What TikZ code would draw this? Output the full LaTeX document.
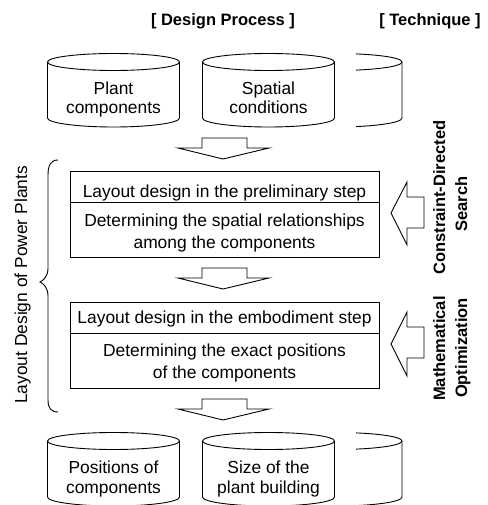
\documentclass[tikz,border=0pt]{standalone}
\usepackage{fontspec}
\setmainfont{Liberation Sans}
\newcommand\mycyl[3]{%
  \draw[ln] (#1,#2) ellipse[x radius=66pt, y radius=8.5pt];
  \draw[ln] ({#1-66},#2) -- ({#1-66},#3) arc[start angle=180, end angle=360, x radius=66pt, y radius=9pt] -- ({#1+66},#2);
}
\begin{document}
\begin{tikzpicture}[x=1pt,y=-1pt,
  ln/.style={line width=0.9pt, black},
  txt/.style={font=\fontsize{17.4}{20}\selectfont, inner sep=0pt, anchor=base},
  bld/.style={font=\fontsize{16.5}{20}\selectfont\bfseries, inner sep=0pt, anchor=base},
  blockarrow/.style={line width=0.9pt, black, fill=white, line join=miter},
  boxstyle/.style={draw, line width=0.9pt, minimum width=309pt, inner sep=0pt}]
\useasboundingbox (0,0) rectangle (487,505);

% headers
\node[bld] (hdp) at (223,26) {[ Design Process ]};
\node[bld] (htq) at (430,26) {[ Technique ]};

% top cylinders
\mycyl{113.5}{62}{118}
\mycyl{268.5}{62}{118}
\begin{scope}
  \clip (356,0) rectangle (420,200);
  \mycyl{336}{62}{118}
\end{scope}
\node[txt] (pc1) at (113.5,95) {Plant};
\node[txt] (pc2) at (113.5,114) {components};
\node[txt] (sc1) at (268.5,95) {Spatial};
\node[txt] (sc2) at (268.5,114) {conditions};

% down arrow 1
\draw[blockarrow] (202,138) -- (247,138) -- (247,148) -- (269,148) -- (223,159) -- (178,148) -- (202,148) -- cycle;

% box 1
\node[boxstyle, minimum height=86pt] (box1) at (224.5,214) {};
\draw[ln] (box1.west |- 0,202) -- (box1.east |- 0,202);
\node[txt] (b1a) at (224.5,197) {Layout design in the preliminary step};
\node[txt] (b1b) at (224.5,226) {Determining the spatial relationships};
\node[txt] (b1c) at (224.5,248) {among the components};

% down arrow 2
\draw[blockarrow] (202,268) -- (247,268) -- (247,278) -- (269,278) -- (223,289) -- (178,278) -- (202,278) -- cycle;

% box 2
\node[boxstyle, minimum height=86pt] (box2) at (224.5,345) {};
\draw[ln] (box2.west |- 0,333) -- (box2.east |- 0,333);
\node[txt] (b2a) at (224.5,323) {Layout design in the embodiment step};
\node[txt] (b2b) at (224.5,356) {Determining the exact positions};
\node[txt] (b2c) at (224.5,378) {of the components};

% down arrow 3
\draw[blockarrow] (202,399) -- (247,399) -- (247,409) -- (269,409) -- (223,420) -- (178,409) -- (202,409) -- cycle;

% bottom cylinders
\mycyl{113.5}{441}{497}
\mycyl{268.5}{441}{497}
\begin{scope}
  \clip (356,400) rectangle (420,505);
  \mycyl{336}{441}{497}
\end{scope}
\node[txt] (po1) at (113.5,473) {Positions of};
\node[txt] (po2) at (113.5,493) {components};
\node[txt] (sz1) at (268.5,473) {Size of the};
\node[txt] (sz2) at (268.5,493) {plant building};

% left arrows
\draw[blockarrow] (424,197) -- (407,197) -- (407,182) -- (391,213) -- (407,245) -- (407,228) -- (424,228) -- cycle;
\draw[blockarrow] (424,327) -- (407,327) -- (407,312) -- (391,344) -- (407,376) -- (407,358) -- (424,358) -- cycle;

% technique labels
\node[bld, rotate=90] (cds1) at (445,197.5) {Constraint-Directed};
\node[bld, rotate=90] (cds2) at (467,204) {Search};
\node[bld, rotate=90] (mo1) at (445,348.5) {Mathematical};
\node[bld, rotate=90] (mo2) at (467,348) {Optimization};

% brace
\draw[ln] (58,160) .. controls (51,160) and (48,165) .. (48,175) -- (48,268)
  .. controls (48,276) and (44,280) .. (40,282)
  .. controls (44,284) and (48,288) .. (48,296) -- (48,400)
  .. controls (48,408) and (51,412) .. (58,412);
\node[txt, rotate=90] (ldp) at (27,285) {Layout Design of Power Plants};
\end{tikzpicture}
\end{document}
